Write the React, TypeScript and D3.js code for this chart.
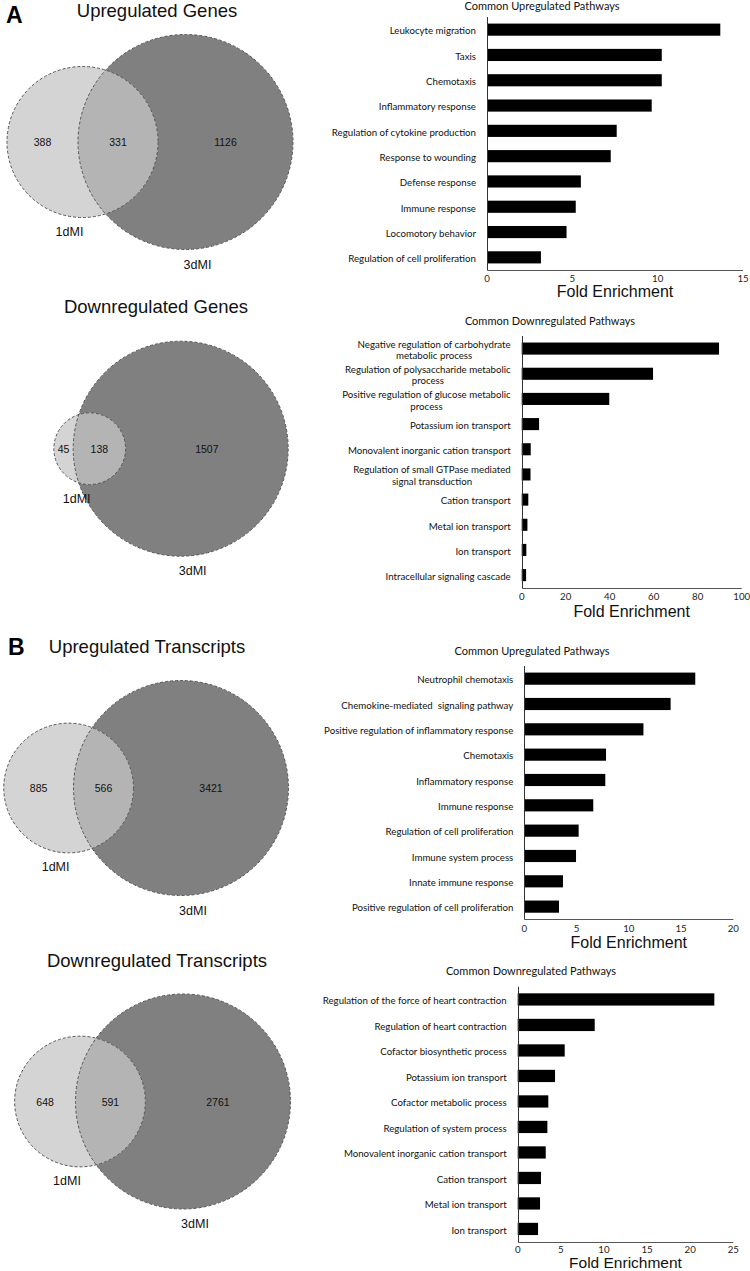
import React, { useEffect, useRef } from "react";
import * as d3 from "d3";

const W = 750;
const H = 1271;

// ---------- Venn data: [1dMI only, overlap, 3dMI only] ----------
const vennSetNames = ["1dMI", "3dMI"];
const vennUpGenes = [388, 331, 1126];
const vennDownGenes = [45, 138, 1507];
const vennUpTranscripts = [885, 566, 3421];
const vennDownTranscripts = [648, 591, 2761];

// ---------- Pathway enrichment data ----------
const upGenesPathways = [
  "Leukocyte migration",
  "Taxis",
  "Chemotaxis",
  "Inflammatory response",
  "Regulation of cytokine production",
  "Response to wounding",
  "Defense response",
  "Immune response",
  "Locomotory behavior",
  "Regulation of cell proliferation",
];
const upGenesFold = [13.67, 10.24, 10.24, 9.65, 7.6, 7.25, 5.5, 5.2, 4.66, 3.16];
const upGenesTicks = [0, 5, 10, 15];

const downGenesPathways = [
  "Negative regulation of carbohydrate\nmetabolic process",
  "Regulation of polysaccharide metabolic\nprocess",
  "Positive regulation of glucose metabolic\nprocess",
  "Potassium ion transport",
  "Monovalent inorganic cation transport",
  "Regulation of small GTPase mediated\nsignal transduction",
  "Cation transport",
  "Metal ion transport",
  "Ion transport",
  "Intracellular signaling cascade",
];
const downGenesFold = [89.7, 59.7, 39.8, 7.9, 4.1, 4.0, 3.0, 2.6, 2.1, 2.0];
const downGenesTicks = [0, 20, 40, 60, 80, 100];

const upTxPathways = [
  "Neutrophil chemotaxis",
  "Chemokine-mediated  signaling pathway",
  "Positive regulation of inflammatory response",
  "Chemotaxis",
  "Inflammatory response",
  "Immune response",
  "Regulation of cell proliferation",
  "Immune system process",
  "Innate immune response",
  "Positive regulation of cell proliferation",
];
const upTxFold = [16.36, 14.0, 11.4, 7.82, 7.75, 6.6, 5.2, 4.95, 3.7, 3.32];
const upTxTicks = [0, 5, 10, 15, 20];

const downTxPathways = [
  "Regulation of the force of heart contraction",
  "Regulation of heart contraction",
  "Cofactor biosynthetic process",
  "Potassium ion transport",
  "Cofactor metabolic process",
  "Regulation of system process",
  "Monovalent inorganic cation transport",
  "Cation transport",
  "Metal ion transport",
  "Ion transport",
];
const downTxFold = [22.8, 8.93, 5.45, 4.33, 3.55, 3.44, 3.25, 2.7, 2.59, 2.36];
const downTxTicks = [0, 5, 10, 15, 20, 25];

// ---------- layout ----------
const ARIAL = "'Liberation Sans', Arial, sans-serif";
const CAL = "Lato, 'Open Sans', sans-serif";

const vennPanels = [
  { counts: vennUpGenes, title: "Upregulated Genes", titleX: 157, titleY: 10, cx: 185.5, cy: 142, letter: "A", letterX: 6, letterY: 22.7 },
  { counts: vennDownGenes, title: "Downregulated Genes", titleX: 156, titleY: 306.7, cx: 180.7, cy: 448.7 },
  { counts: vennUpTranscripts, title: "Upregulated Transcripts", titleX: 147, titleY: 646.7, cx: 181, cy: 788, letter: "B", letterX: 8, letterY: 655 },
  { counts: vennDownTranscripts, title: "Downregulated Transcripts", titleX: 157, titleY: 960.7, cx: 183, cy: 1101.5 },
];

const barPanels = [
  { labels: upGenesPathways, values: upGenesFold, ticks: upGenesTicks, x0: 487, x1: 743, y0: 17, y1: 270, title: "Common Upregulated Pathways", titleX: 542, titleY: 5, foldDy: 21.5, foldSize: 16, tickDy: 8.3 },
  { labels: downGenesPathways, values: downGenesFold, ticks: downGenesTicks, x0: 521.7, x1: 741.7, y0: 336, y1: 587.7, title: "Common Downregulated Pathways", titleX: 550, titleY: 320, foldDy: 23.5, foldSize: 16, tickDy: 8.3 },
  { labels: upTxPathways, values: upTxFold, ticks: upTxTicks, x0: 524.3, x1: 733.3, y0: 666, y1: 919.3, title: "Common Upregulated Pathways", titleX: 532, titleY: 650, foldDy: 23, foldSize: 16, tickDy: 8.3 },
  { labels: downTxPathways, values: downTxFold, ticks: downTxTicks, x0: 517.7, x1: 733.3, y0: 986.7, y1: 1241.7, title: "Common Downregulated Pathways", titleX: 531, titleY: 970, foldDy: 21, foldSize: 15.5, tickDy: 7.6 },
];

function lensArea(d: number, r1: number, r2: number) {
  if (d >= r1 + r2) return 0;
  if (d <= Math.abs(r1 - r2)) return Math.PI * Math.min(r1, r2) ** 2;
  const a = r1 * r1 * Math.acos((d * d + r1 * r1 - r2 * r2) / (2 * d * r1));
  const b = r2 * r2 * Math.acos((d * d + r2 * r2 - r1 * r1) / (2 * d * r2));
  const c = 0.5 * Math.sqrt((-d + r1 + r2) * (d + r1 - r2) * (d - r1 + r2) * (d + r1 + r2));
  return a + b - c;
}

function solveDistance(r1: number, r2: number, target: number) {
  let lo = Math.abs(r1 - r2);
  let hi = r1 + r2;
  for (let i = 0; i < 80; i++) {
    const mid = (lo + hi) / 2;
    if (lensArea(mid, r1, r2) > target) lo = mid;
    else hi = mid;
  }
  return (lo + hi) / 2;
}

export default function App() {
  const ref = useRef<SVGSVGElement>(null);

  useEffect(() => {
    const svg = d3.select(ref.current);
    svg.selectAll("*").remove();
    const defs = svg.append("defs");

    // ---------------- Venn diagrams ----------------
    vennPanels.forEach((p, i) => {
      const [onlyA, both, onlyB] = p.counts;
      const totA = onlyA + both;
      const totB = both + onlyB;
      const rScale = d3.scaleSqrt().domain([0, totB]).range([0, 107.5]);
      const r1 = rScale(totA);
      const r2 = rScale(totB);
      const d = solveDistance(r1, r2, (both / totA) * Math.PI * r1 * r1);
      const cx2 = p.cx;
      const cx1 = cx2 - d;
      const cy = p.cy;
      const g = svg.append("g");

      const clipId = `clipBig${i}`;
      defs.append("clipPath").attr("id", clipId)
        .append("circle").attr("cx", cx2).attr("cy", cy).attr("r", r2);

      g.append("circle").attr("cx", cx2).attr("cy", cy).attr("r", r2).attr("fill", "#808080");
      g.append("circle").attr("cx", cx1).attr("cy", cy).attr("r", r1).attr("fill", "#d4d4d4");
      g.append("circle").attr("cx", cx1).attr("cy", cy).attr("r", r1).attr("fill", "#b4b4b4")
        .attr("clip-path", `url(#${clipId})`);
      [[cx2, r2], [cx1, r1]].forEach(([cx, r]) => {
        g.append("circle").attr("cx", cx).attr("cy", cy).attr("r", r)
          .attr("fill", "none").attr("stroke", "#555").attr("stroke-width", 1)
          .attr("stroke-dasharray", "3,2");
      });

      const leftA = cx1 - r1, rightA = cx1 + r1, leftB = cx2 - r2, rightB = cx2 + r2;
      const nums = [
        { v: onlyA, x: (leftA + leftB) / 2 },
        { v: both, x: (leftB + rightA) / 2 },
        { v: onlyB, x: (rightA + rightB) / 2 },
      ];
      g.selectAll("text.num").data(nums).enter().append("text")
        .attr("x", (n) => n.x).attr("y", cy)
        .attr("text-anchor", "middle").attr("dominant-baseline", "central")
        .attr("font-family", ARIAL).attr("font-size", 10.5).attr("fill", "#111")
        .text((n) => String(n.v));

      g.append("text").attr("x", cx1 - 13).attr("y", cy + r1 + 14.5)
        .attr("text-anchor", "middle").attr("dominant-baseline", "central")
        .attr("font-family", ARIAL).attr("font-size", 12.5).attr("fill", "#111")
        .text(vennSetNames[0]);
      g.append("text").attr("x", cx2 + 12).attr("y", cy + r2 + 15)
        .attr("text-anchor", "middle").attr("dominant-baseline", "central")
        .attr("font-family", ARIAL).attr("font-size", 12.5).attr("fill", "#111")
        .text(vennSetNames[1]);

      g.append("text").attr("x", p.titleX).attr("y", p.titleY)
        .attr("text-anchor", "middle").attr("dominant-baseline", "central")
        .attr("font-family", ARIAL).attr("font-size", 18.5).attr("fill", "#111")
        .text(p.title);
      if (p.letter) {
        g.append("text").attr("x", p.letterX).attr("y", p.letterY)
          .attr("font-family", ARIAL).attr("font-size", 23).attr("font-weight", "bold")
          .attr("fill", "#000").text(p.letter);
      }
    });

    // ---------------- Bar charts ----------------
    barPanels.forEach((p) => {
      const g = svg.append("g");
      const x = d3.scaleLinear()
        .domain([0, p.ticks[p.ticks.length - 1]])
        .range([p.x0, p.x1]);
      const y = d3.scaleBand<string>()
        .domain(p.labels)
        .range([p.y0, p.y1])
        .paddingInner(0.52)
        .paddingOuter(0.26);

      g.selectAll("rect").data(p.values).enter().append("rect")
        .attr("x", x(0))
        .attr("y", (_v, i) => y(p.labels[i]) as number)
        .attr("width", (v) => x(v) - x(0))
        .attr("height", y.bandwidth())
        .attr("fill", "#000");

      const ax = Math.round(x(0)) + 0.5;
      const ay = Math.round(p.y1) + 0.5;
      g.append("line").attr("x1", ax).attr("x2", ax).attr("y1", p.y0).attr("y2", ay)
        .attr("stroke", "#333").attr("stroke-width", 1);
      g.append("line").attr("x1", ax).attr("x2", x(p.ticks[p.ticks.length - 1])).attr("y1", ay).attr("y2", ay)
        .attr("stroke", "#555").attr("stroke-width", 1);

      g.selectAll("text.tick").data(p.ticks).enter().append("text")
        .attr("x", (t) => x(t)).attr("y", p.y1 + p.tickDy)
        .attr("text-anchor", "middle").attr("dominant-baseline", "central")
        .attr("font-family", CAL).attr("font-size", 9.7).attr("fill", "#222")
        .text((t) => String(t));

      g.append("text").attr("x", (p.x0 + p.x1) / 2).attr("y", p.y1 + p.foldDy)
        .attr("text-anchor", "middle").attr("dominant-baseline", "central")
        .attr("font-family", ARIAL).attr("font-size", p.foldSize).attr("fill", "#111")
        .text("Fold Enrichment");

      g.append("text").attr("x", p.titleX).attr("y", p.titleY)
        .attr("text-anchor", "middle").attr("dominant-baseline", "central")
        .attr("font-family", CAL).attr("font-size", 11).attr("fill", "#111")
        .text(p.title);

      const right = p.x0 - 11;
      p.labels.forEach((lab) => {
        const lines = lab.split("\n");
        const cy = (y(lab) as number) + y.bandwidth() / 2;
        const lh = 11.7;
        const nodes: SVGTextElement[] = [];
        lines.forEach((ln, li) => {
          const t = g.append("text")
            .attr("x", right)
            .attr("y", cy + 0.8 + (li - (lines.length - 1) / 2) * lh)
            .attr("text-anchor", "end").attr("dominant-baseline", "central")
            .attr("font-family", CAL).attr("font-size", 9.7).attr("fill", "#111")
            .attr("xml:space", "preserve")
            .text(ln);
          nodes.push(t.node() as SVGTextElement);
        });
        if (nodes.length > 1) {
          const widths = nodes.map((n) => n.getComputedTextLength());
          const maxW = Math.max(...widths);
          nodes.forEach((n, k) => {
            d3.select(n).attr("x", right - (maxW - widths[k]) / 2);
          });
        }
      });
    });
  }, []);

  return (
    <div style={{ position: "absolute", left: 0, top: 0, width: W, height: H, background: "#fff" }}>
      <svg ref={ref} width={W} height={H} style={{ display: "block" }} />
    </div>
  );
}
